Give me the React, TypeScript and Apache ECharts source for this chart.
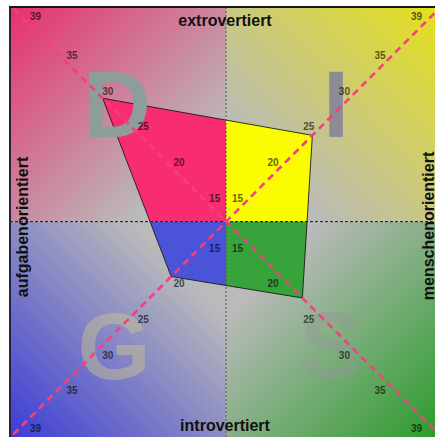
import React, { useEffect, useRef } from 'react';
import * as echarts from 'echarts';

// Profile values read on the four diagonals (D top-left, I top-right, S bottom-right, G bottom-left)
const profileLetters = ['D', 'I', 'S', 'G'];
const profileValues = [29.3, 24.1, 22.7, 19.7];
const tickValues = [15, 20, 25, 30, 35, 39];
const topTitle = 'extrovertiert';
const bottomTitle = 'introvertiert';
const leftTitle = 'aufgabenorientiert';
const rightTitle = 'menschenorientiert';
const CENTER_VALUE = 12;
const X_RANGE = [-30.3, 29.3];
const Y_RANGE = [-30.2, 30.1];

const directions = [[-1, 1], [1, 1], [1, -1], [-1, -1]];
const quadColors = ['#f82c70', '#fbfb02', '#36a33b', '#4b53d8'];
const cornerColors = ['#e8306c', '#e4e01c', '#2c9c2c', '#3c3cd6'];
const GREY = '#bababa';
const FONT = '"Liberation Sans", Arial, sans-serif';

function buildOption() {
  const verts = directions.map(([sx, sy], i) => {
    const d = profileValues[i] - CENTER_VALUE;
    return [sx * d, sy * d];
  });
  const crossX0 = (a: number[], b: number[]) => {
    const t = a[0] / (a[0] - b[0]);
    return [0, a[1] + t * (b[1] - a[1])];
  };
  const crossY0 = (a: number[], b: number[]) => {
    const t = a[1] / (a[1] - b[1]);
    return [a[0] + t * (b[0] - a[0]), 0];
  };
  const [D, I, S, G] = verts;
  const top = crossX0(D, I);
  const right = crossY0(I, S);
  const bottom = crossX0(S, G);
  const left = crossY0(G, D);
  const C = [0, 0];
  const quadPolys = [
    [C, top, D, left],
    [C, top, I, right],
    [C, right, S, bottom],
    [C, bottom, G, left],
  ];

  const quadRects = [
    [[X_RANGE[0], Y_RANGE[1]], [0, 0]],
    [[0, Y_RANGE[1]], [X_RANGE[1], 0]],
    [[0, 0], [X_RANGE[1], Y_RANGE[0]]],
    [[X_RANGE[0], 0], [0, Y_RANGE[0]]],
  ];
  const gradDirs = [
    [0, 0, 1, 1],
    [1, 0, 0, 1],
    [1, 1, 0, 0],
    [0, 1, 1, 0],
  ];

  const tickLabelData: any[] = [];
  directions.forEach(([sx, sy]) => {
    tickValues.forEach((v) => {
      const d = v - CENTER_VALUE;
      const isEnd = v === tickValues[tickValues.length - 1];
      const inward = isEnd ? 2 : 10;
      const outward = sy > 0 ? (isEnd ? 13 : 2) : (isEnd ? 14 : 5);
      tickLabelData.push({
        name: String(v),
        value: [sx * d, sy * d],
        label: { offset: [-sx * inward, -sy * outward] },
      });
    });
  });

  const K = 31;
  const diagLine = {
    type: 'line',
    z: 4,
    symbol: 'none',
    clip: true,
    silent: true,
    lineStyle: { color: '#f4407e', width: 2.6, type: [7, 5] },
  };

  return {
    animation: false,
    grid: { left: 10, top: 7, right: 0, bottom: 0 },
    xAxis: {
      type: 'value', min: X_RANGE[0], max: X_RANGE[1], position: 'top', z: 10,
      axisLine: { show: true, onZero: false, lineStyle: { color: '#161616', width: 2 } },
      axisTick: { show: false }, axisLabel: { show: false }, splitLine: { show: false },
    },
    yAxis: {
      type: 'value', min: Y_RANGE[0], max: Y_RANGE[1], position: 'left', z: 10,
      axisLine: { show: true, onZero: false, lineStyle: { color: '#2a2040', width: 2 } },
      axisTick: { show: false }, axisLabel: { show: false }, splitLine: { show: false },
    },
    series: [
      {
        type: 'custom', z: 1, silent: true,
        data: [0, 1, 2, 3],
        renderItem: (params: any, api: any) => {
          const i = params.dataIndex;
          const p1 = api.coord(quadRects[i][0]);
          const p2 = api.coord(quadRects[i][1]);
          const x = Math.min(p1[0], p2[0]);
          const y = Math.min(p1[1], p2[1]);
          const g = gradDirs[i];
          return {
            type: 'rect',
            shape: { x, y, width: Math.abs(p2[0] - p1[0]), height: Math.abs(p2[1] - p1[1]) },
            style: {
              fill: new echarts.graphic.LinearGradient(g[0], g[1], g[2], g[3], [
                { offset: 0, color: cornerColors[i] },
                { offset: 0.78, color: GREY },
                { offset: 1, color: GREY },
              ]),
            },
          };
        },
      },
      {
        type: 'custom', z: 2, silent: true,
        data: [0, 1, 2, 3],
        renderItem: (params: any, api: any) => {
          const i = params.dataIndex;
          const pts = quadPolys[i].map((p) => api.coord(p));
          return { type: 'polygon', shape: { points: pts }, style: { fill: quadColors[i] } };
        },
      },
      {
        type: 'custom', z: 2, silent: true,
        data: [0],
        renderItem: (params: any, api: any) => {
          const pts = verts.map((p) => api.coord(p));
          return {
            type: 'polygon', shape: { points: pts },
            style: { fill: 'none', stroke: 'rgba(20,20,20,0.85)', lineWidth: 1 },
          };
        },
      },
      { ...diagLine, data: [[-K, K], [K, -K]] },
      { ...diagLine, data: [[-K, -K], [K, K]] },
      {
        type: 'line', z: 3, symbol: 'none', silent: true,
        data: [[0, Y_RANGE[0]], [0, Y_RANGE[1]]],
        lineStyle: { color: '#555', width: 1, type: [2, 2] },
      },
      {
        type: 'line', z: 3, symbol: 'none', silent: true,
        data: [[X_RANGE[0], 0], [X_RANGE[1], 0]],
        lineStyle: { color: '#111', width: 1, type: [3, 2] },
      },
      {
        type: 'scatter', z: 5, silent: true,
        symbolSize: 1,
        itemStyle: { color: 'rgba(0,0,0,0)' },
        data: tickLabelData,
        label: {
          show: true, position: 'inside', formatter: '{b}',
          color: 'rgba(0,0,0,0.8)', fontSize: 10, fontWeight: 'bold', fontFamily: FONT,
        },
      },
    ],
    graphic: [
      { type: 'text', z: 3, x: 117, y: 104, style: { text: profileLetters[0], font: `bold 94px ${FONT}`, fill: '#8d9d9c', align: 'center', verticalAlign: 'middle' } },
      { type: 'text', z: 3, x: 336, y: 104, style: { text: profileLetters[1], font: `bold 94px ${FONT}`, fill: '#8c8c96', align: 'center', verticalAlign: 'middle' } },
      { type: 'text', z: 3, x: 331, y: 345, style: { text: profileLetters[2], font: `bold 94px ${FONT}`, fill: 'rgba(150,150,155,0.38)', align: 'center', verticalAlign: 'middle' } },
      { type: 'text', z: 3, x: 114, y: 346, style: { text: profileLetters[3], font: `bold 94px ${FONT}`, fill: 'rgba(205,200,140,0.45)', align: 'center', verticalAlign: 'middle' } },
      { type: 'text', z: 6, x: 225, y: 20, style: { text: topTitle, font: `bold 16px ${FONT}`, fill: '#111', align: 'center', verticalAlign: 'middle' } },
      { type: 'text', z: 6, x: 225, y: 425, style: { text: bottomTitle, font: `bold 16px ${FONT}`, fill: '#111', align: 'center', verticalAlign: 'middle' } },
      { type: 'text', z: 6, x: 22, y: 227, rotation: Math.PI / 2, style: { text: leftTitle, font: `bold 16px ${FONT}`, fill: '#111', align: 'center', verticalAlign: 'middle' } },
      { type: 'text', z: 6, x: 428, y: 226, rotation: Math.PI / 2, style: { text: rightTitle, font: `bold 16px ${FONT}`, fill: '#111', align: 'center', verticalAlign: 'middle' } },
    ],
  };
}

export default function App() {
  const ref = useRef<HTMLDivElement>(null);
  useEffect(() => {
    if (!ref.current) return;
    const chart = echarts.init(ref.current, undefined, { renderer: 'svg' });
    chart.setOption(buildOption() as any);
    return () => chart.dispose();
  }, []);
  return (
    <div
      ref={ref}
      style={{ position: 'fixed', left: 0, top: 0, width: 435, height: 437, background: '#fff' }}
    />
  );
}
